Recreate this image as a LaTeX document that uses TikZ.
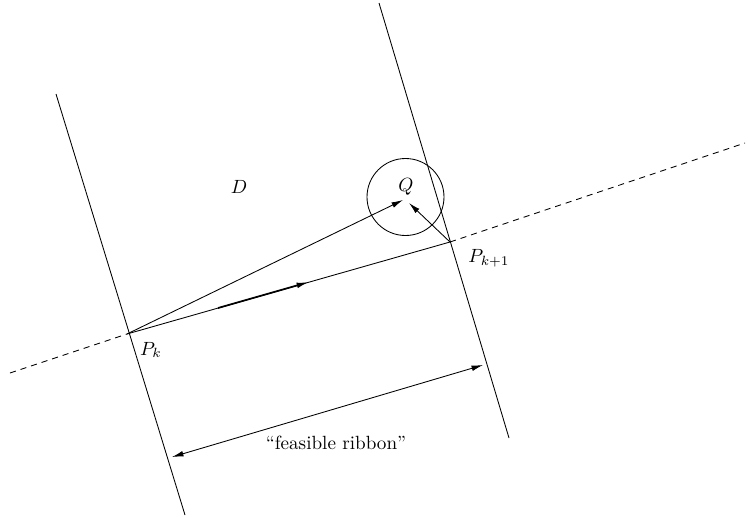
\documentclass[tikz,border=0pt]{standalone}
\usetikzlibrary{arrows.meta}
\begin{document}
\begin{tikzpicture}[x=0.523pt,y=-0.523pt,
  thin line/.style={line width=0.45pt},
  dash line/.style={line width=0.45pt,dash pattern=on 3.2pt off 2.6pt},
  arr/.style={line width=0.45pt,-{Latex[length=6pt,width=3pt]}},
  darr/.style={line width=0.45pt,{Latex[length=6pt,width=3pt]}-{Latex[length=6pt,width=3pt]}},
  thick arr/.style={line width=0.9pt,-{Latex[length=6.5pt,width=3pt]}},
  lab/.style={inner sep=0pt,font=\normalsize}]
\useasboundingbox (0,0) rectangle (748,517);
% key points
\coordinate (Pk) at (127,334);
\coordinate (Pk1) at (450,242);
\coordinate (Qc) at (405.5,197);
\coordinate (Ltop) at (56,94);
\coordinate (Lbot) at (185,515);
\coordinate (Rtop) at (379,3);
\coordinate (Rbot) at (509,438);
\coordinate (DL) at (10,373);
\coordinate (DR) at (745,143);
\coordinate (Qtip1) at (403,200);
\coordinate (Qtip2) at (409,203);
\coordinate (Ma) at (218,308);
\coordinate (Mb) at (309,282);
\coordinate (Ra) at (172,457);
\coordinate (Rb) at (483,365);
% ribbon boundaries
\draw[thin line] (Ltop) -- (Lbot);
\draw[thin line] (Rtop) -- (Rbot);
% dashed line
\draw[dash line] (DL) -- (Pk);
\draw[dash line] (Pk1) -- (DR);
% segment Pk -- Pk+1
\draw[thin line] (Pk) -- (Pk1);
\draw[thick arr] (Ma) -- (Mb);
% circle around Q
\draw[thin line] (Qc) circle[radius=38.5];
% arrows to Q
\draw[arr] (Pk) -- (Qtip1);
\draw[arr] (Pk1) -- (Qtip2);
% feasible ribbon arrow
\draw[darr] (Ra) -- (Rb);
% labels
\node[lab] (lD) at (239,187) {$D$};
\node[lab] (lQ) at (406,187) {$Q$};
\node[lab] (lPk) at (151,350) {$P_k$};
\node[lab] (lPk1) at (489,258) {$P_{k+1}$};
\node[lab] (lrib) at (336,443) {``feasible ribbon''};
\end{tikzpicture}
\end{document}
